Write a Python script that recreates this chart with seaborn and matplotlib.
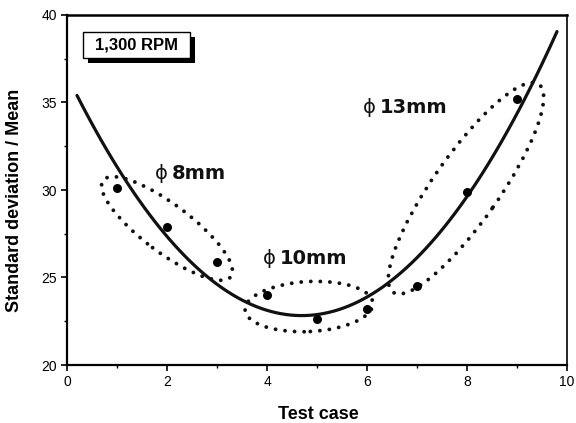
import matplotlib
matplotlib.use("Agg")
import matplotlib.pyplot as plt
import matplotlib.patheffects as pe
from matplotlib.patches import Ellipse, Rectangle
from matplotlib.ticker import AutoMinorLocator
from matplotlib.transforms import ScaledTranslation
import seaborn as sns

# Measured ratio for each test case
test_case = [1, 2, 3, 4, 5, 6, 7, 8, 9]
sd_over_mean = [30.1, 27.9, 25.9, 24.0, 22.6, 23.2, 24.5, 29.9, 35.2]

# Axis ticks
x_ticks = [0, 2, 4, 6, 8, 10]
y_ticks = [20, 25, 30, 35, 40]

# Nozzle-diameter groups
group_labels = ["8mm", "10mm", "13mm"]
speed_label = "1,300 RPM"

sns.set_theme(style="ticks")
plt.rcParams["font.family"] = ["Liberation Sans", "DejaVu Sans"]

fig = plt.figure(figsize=(5.76, 4.23), dpi=100)
ax = fig.add_axes([67 / 576, 58 / 423, 500 / 576, 350 / 423])

# quadratic trend drawn over a slightly shorter span than the axis
ax.set_xlim(0.2, 9.8)
sns.regplot(
    x=test_case, y=sd_over_mean, order=2, ci=None, truncate=False, ax=ax,
    scatter_kws=dict(color="black", s=42, alpha=1, zorder=3, linewidths=0),
    line_kws=dict(color="#111111", lw=2.3, zorder=2),
)

ax.set_xlim(0, 10)
ax.set_ylim(20, 40)
ax.set_xticks(x_ticks)
ax.set_yticks(y_ticks)
ax.xaxis.set_minor_locator(AutoMinorLocator(2))
ax.yaxis.set_minor_locator(AutoMinorLocator(2))
ax.tick_params(which="major", direction="out", length=4, width=1.2,
               labelsize=10, color="black", labelcolor="black", pad=3)
ax.tick_params(which="minor", direction="out", length=2.5, width=1.0,
               color="black")
ax.tick_params(top=False, right=False, which="both")

for side, lw in {"left": 1.6, "bottom": 1.6, "top": 1.8, "right": 1.2}.items():
    ax.spines[side].set_visible(True)
    ax.spines[side].set_color("black")
    ax.spines[side].set_linewidth(lw)

ax.set_xlabel("Test case", fontsize=13, fontweight="bold", color="black")
ax.set_ylabel("Standard deviation / Mean", fontsize=13, fontweight="bold",
              color="black")
ax.xaxis.set_label_coords(0.502, -0.118)
ax.yaxis.set_label_coords(-0.088, 0.469)

# dotted outlines around each diameter group (sizes in inches, centre in data)
outlines = [
    ((2.0, 27.8), 1.60, 0.48, -37),
    ((4.84, 23.34), 1.28, 0.50, 3),
    ((7.98, 30.1), 2.54, 0.66, 55),
]
for (cx, cy), w, h, ang in outlines:
    trans = fig.dpi_scale_trans + ScaledTranslation(cx, cy, ax.transData)
    ell = Ellipse((0, 0), w, h, angle=ang, transform=trans, fill=False,
                  edgecolor="#111111", lw=2.8, linestyle=(0, (0.01, 2.45)),
                  capstyle="round", zorder=2)
    ax.add_artist(ell)

# group captions: phi sign followed by the diameter
caption_pos = [(1.76, 30.97), (3.92, 26.11), (5.92, 34.74)]
for (tx, ty), lab in zip(caption_pos, group_labels):
    phi = ax.text(tx, ty, "\u03d5", fontsize=14, family="DejaVu Sans",
                  ha="left", va="center", color="#111111")
    ax.annotate(lab, xy=(1, 0.5), xycoords=phi, xytext=(3, 0),
                textcoords="offset points", ha="left", va="center",
                fontsize=14, fontweight="bold", family="DejaVu Sans",
                color="#111111")

# speed tag with drop shadow
box = Rectangle((0.032, 0.877), 0.214, 0.074, transform=ax.transAxes,
                facecolor="white", edgecolor="black", lw=1.0, zorder=4)
box.set_path_effects([
    pe.SimplePatchShadow(offset=(3.6, -3.6), shadow_rgbFace="black", alpha=1),
    pe.Normal(),
])
ax.add_patch(box)
ax.text(0.139, 0.914, speed_label, transform=ax.transAxes, fontsize=12,
        fontweight="bold", ha="center", va="center", color="black", zorder=5)

fig.savefig("out.png", dpi=100)
